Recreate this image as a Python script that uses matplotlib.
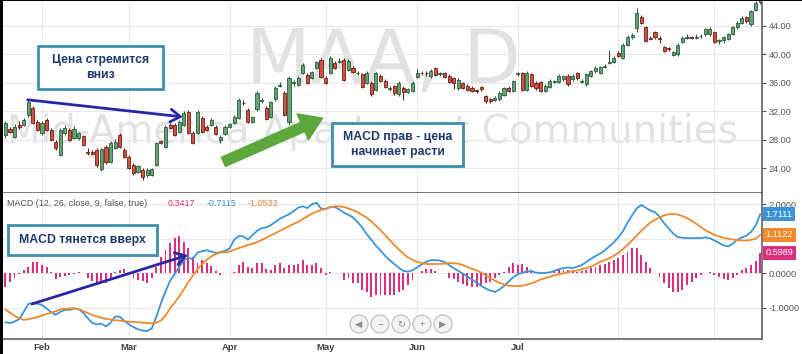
import numpy as np
import pandas as pd
import matplotlib
matplotlib.use("Agg")
import matplotlib.pyplot as plt
from matplotlib.patches import Rectangle, Circle, FancyArrowPatch
from matplotlib.ticker import FormatStrFormatter, FuncFormatter

plt.rcParams['font.family'] = ['Liberation Sans', 'DejaVu Sans']

# ---- data: MAA daily, Jan 21 .. Sep 2009 ----
holidays = ['2009-02-16', '2009-04-10', '2009-05-25', '2009-07-03', '2009-09-07']
month_labels = ['Feb', 'Mar', 'Apr', 'May', 'Jun', 'Jul', '', '']

opens = [
    28.6, 29.5, 28.4, 30.1, 30.1, 31.5, 32.5, 30.5, 28.9, 30.8,
    29.4, 27.7, 25.9, 28.9, 29.4, 28.3, 28.3, 28.5, 26.3, 26.3,
    26.6, 23.9, 27.0, 24.9, 26.9, 28.7, 26.6, 25.6, 24.5, 23.5,
    23.8, 23.1, 23.1, 24.5, 27.8, 27.0, 30.1, 30.1, 29.1, 30.1,
    31.9, 29.0, 29.0, 31.0, 29.8, 30.1, 29.8, 27.9, 28.8, 29.8,
    30.4, 31.1, 33.2, 32.2, 30.5, 32.3, 33.4, 32.5, 31.2, 33.7,
    35.6, 34.6, 30.5, 35.9, 35.7, 37.4, 37.1, 36.7, 38.1, 39.2,
    36.7, 37.4, 38.8, 38.9, 39.2, 37.8, 38.1, 37.3, 37.2, 36.0,
    36.0, 35.0, 37.0, 36.3, 35.1, 35.5, 34.4, 35.3, 34.7, 34.9,
    36.8, 37.3, 37.4, 36.9, 38.0, 37.2, 37.3, 37.0, 36.6, 35.2,
    35.9, 35.6, 35.3, 34.9, 35.4, 34.1, 33.7, 33.6, 33.7, 34.3,
    35.3, 34.9, 37.2, 37.3, 35.0, 37.2, 36.0, 36.1, 34.9, 35.4,
    36.1, 36.1, 36.5, 37.0, 36.5, 37.3, 36.1, 35.8, 37.0, 37.6,
    37.4, 38.2, 38.8, 38.9, 40.2, 39.5, 41.3, 42.4, 43.7, 45.2,
    43.8, 42.3, 43.1, 42.3, 41.0, 40.8, 39.9, 40.0, 41.7, 42.3,
    42.4, 42.3, 42.5, 42.8, 42.8, 43.1, 41.9, 42.0, 42.2, 42.9,
    43.8, 44.4, 45.2, 44.2, 46.2, 47.3,
]
closes = [
    30.3, 29.1, 29.8, 29.8, 30.8, 33.3, 30.4, 29.4, 30.3, 29.4,
    28.0, 26.9, 29.4, 29.7, 28.0, 29.5, 28.9, 27.3, 26.1, 26.0,
    24.5, 26.7, 24.9, 27.5, 27.7, 27.0, 25.6, 24.1, 23.4, 24.3,
    22.8, 23.8, 23.9, 27.5, 27.6, 29.8, 29.7, 28.7, 30.5, 31.8,
    29.0, 27.6, 31.9, 29.1, 29.4, 30.8, 28.8, 28.4, 29.8, 30.2,
    31.2, 33.6, 33.1, 30.5, 31.2, 34.6, 33.5, 30.9, 33.3, 35.3,
    35.7, 31.5, 36.7, 36.1, 36.7, 38.5, 36.0, 37.5, 38.9, 36.8,
    36.0, 39.5, 38.1, 39.1, 36.4, 39.1, 37.5, 37.4, 35.4, 37.4,
    34.4, 37.3, 36.3, 35.4, 35.2, 34.5, 36.0, 34.7, 35.1, 36.0,
    37.4, 37.4, 37.3, 37.7, 37.1, 37.3, 36.8, 36.1, 35.9, 36.4,
    35.3, 35.0, 34.9, 34.8, 35.1, 33.4, 33.4, 33.9, 34.6, 35.2,
    34.9, 36.2, 37.3, 35.0, 37.4, 35.6, 35.2, 34.9, 35.6, 36.3,
    36.2, 37.0, 36.9, 35.8, 37.0, 36.6, 36.2, 37.2, 37.6, 38.1,
    38.2, 38.4, 38.9, 39.5, 39.8, 41.3, 42.4, 42.7, 45.8, 44.4,
    41.9, 42.2, 42.4, 42.2, 40.5, 40.7, 40.3, 41.3, 42.3, 42.4,
    42.3, 42.4, 42.6, 43.5, 43.5, 41.7, 42.0, 42.4, 42.8, 43.8,
    44.4, 45.1, 44.6, 46.0, 47.2, 48.0,
]
highs = [
    30.6, 29.8, 30.2, 30.6, 31.0, 33.7, 32.8, 30.8, 30.6, 31.0,
    29.6, 28.0, 29.7, 30.0, 29.6, 29.9, 29.1, 28.7, 26.8, 26.5,
    26.8, 26.9, 27.2, 27.8, 28.1, 29.0, 26.8, 25.8, 24.7, 24.5,
    24.0, 24.0, 24.1, 27.7, 28.0, 30.0, 30.3, 30.3, 30.7, 32.0,
    32.2, 29.2, 32.2, 31.3, 30.0, 31.0, 30.0, 28.6, 30.0, 30.4,
    31.5, 33.9, 33.6, 32.4, 31.4, 34.9, 33.9, 32.7, 33.5, 35.5,
    36.1, 34.8, 37.0, 36.4, 36.9, 38.8, 37.3, 37.7, 39.1, 39.4,
    36.9, 39.8, 39.0, 39.4, 39.4, 39.3, 38.3, 37.7, 37.4, 37.6,
    36.2, 37.5, 37.2, 36.5, 35.5, 35.7, 36.2, 35.5, 35.3, 36.2,
    37.9, 37.7, 37.6, 37.9, 38.2, 37.5, 37.5, 37.2, 36.8, 36.6,
    36.1, 35.8, 35.5, 35.1, 35.6, 34.3, 33.9, 34.1, 34.8, 35.4,
    35.5, 36.4, 37.5, 37.5, 37.6, 37.4, 36.2, 36.3, 35.8, 36.5,
    36.4, 37.2, 37.1, 37.2, 37.2, 37.5, 36.5, 37.4, 37.8, 38.3,
    38.4, 38.6, 40.6, 39.8, 40.4, 41.6, 42.7, 43.0, 46.5, 45.5,
    44.0, 42.5, 43.3, 42.5, 41.2, 41.0, 40.5, 41.5, 42.5, 42.8,
    42.6, 42.9, 42.8, 43.7, 43.8, 43.3, 42.2, 42.6, 43.0, 44.0,
    44.6, 45.4, 45.4, 46.2, 47.5, 48.3,
]
lows = [
    28.2, 28.9, 28.2, 29.5, 29.9, 31.2, 30.2, 29.2, 28.7, 29.2,
    27.8, 26.6, 25.7, 28.7, 27.8, 28.1, 28.0, 27.1, 25.9, 25.8,
    24.2, 23.6, 24.6, 24.7, 26.7, 26.8, 25.4, 23.9, 23.1, 23.3,
    22.4, 22.8, 22.9, 24.3, 27.4, 26.8, 29.5, 28.5, 28.9, 29.9,
    28.8, 27.4, 28.8, 28.9, 29.2, 29.9, 28.6, 27.6, 28.6, 29.6,
    30.2, 30.9, 32.9, 30.3, 30.3, 32.1, 33.2, 30.7, 31.0, 33.5,
    35.4, 31.3, 30.1, 35.6, 35.5, 37.2, 35.8, 36.5, 37.9, 36.6,
    35.8, 37.2, 37.9, 38.7, 36.2, 37.6, 37.3, 37.1, 35.2, 35.8,
    34.2, 34.8, 36.1, 35.2, 34.9, 34.3, 34.2, 33.6, 34.5, 34.7,
    36.6, 37.1, 37.0, 36.7, 36.9, 37.0, 36.6, 35.9, 35.1, 35.0,
    35.1, 34.8, 34.7, 34.6, 34.9, 33.2, 33.2, 33.4, 33.5, 34.1,
    34.7, 34.7, 37.0, 34.8, 34.8, 35.4, 35.0, 34.7, 34.7, 35.2,
    35.9, 35.9, 36.3, 35.6, 36.3, 36.4, 35.9, 35.6, 36.8, 37.4,
    37.2, 38.0, 38.6, 38.7, 39.6, 39.3, 41.1, 42.2, 43.1, 44.2,
    41.7, 42.0, 42.2, 41.6, 40.3, 40.5, 39.8, 39.8, 41.5, 42.2,
    42.1, 42.1, 42.3, 42.6, 42.6, 41.5, 41.4, 41.5, 42.0, 42.7,
    43.6, 44.2, 44.4, 44.0, 46.0, 47.1,
]

macd = [
    -1.42, -1.44, -1.40, -1.33, -1.12, -0.89, -0.86, -0.88, -0.92, -1.02,
    -1.13, -1.20, -1.12, -1.06, -1.06, -1.02, -1.04, -1.14, -1.30, -1.44,
    -1.48, -1.46, -1.54, -1.43, -1.25, -1.26, -1.38, -1.48, -1.56, -1.62,
    -1.66, -1.67, -1.60, -1.26, -0.87, -0.53, -0.22, -0.02, 0.18, 0.38,
    0.44, 0.42, 0.60, 0.64, 0.67, 0.63, 0.59, 0.61, 0.65, 0.72,
    0.97, 1.08, 1.07, 0.98, 1.10, 1.23, 1.31, 1.33, 1.39, 1.49,
    1.58, 1.65, 1.71, 1.80, 1.90, 1.94, 1.89, 2.00, 2.04, 1.88,
    1.86, 1.92, 1.92, 1.85, 1.76, 1.69, 1.62, 1.48, 1.33, 1.13,
    0.97, 0.80, 0.66, 0.51, 0.38, 0.27, 0.16, 0.07, 0.05, 0.09,
    0.17, 0.26, 0.33, 0.38, 0.38, 0.37, 0.33, 0.24, 0.15, 0.07,
    -0.01, -0.09, -0.18, -0.27, -0.36, -0.44, -0.50, -0.54, -0.47, -0.37,
    -0.24, -0.12, -0.03, 0.02, 0.05, 0.06, 0.02, 0.01, 0.01, 0.03,
    0.07, 0.12, 0.15, 0.17, 0.15, 0.19, 0.24, 0.33, 0.42, 0.50,
    0.57, 0.66, 0.78, 0.90, 1.04, 1.22, 1.47, 1.68, 1.88, 1.98,
    1.90, 1.82, 1.77, 1.64, 1.45, 1.30, 1.15, 1.05, 1.03, 1.02,
    1.02, 1.02, 1.02, 1.04, 1.02, 0.95, 0.88, 0.81, 0.78, 0.86,
    0.97, 1.04, 1.09, 1.20, 1.38, 1.7111,
]
signal = [
    -1.05, -1.14, -1.23, -1.30, -1.35, -1.33, -1.30, -1.27, -1.22, -1.18,
    -1.14, -1.10, -1.05, -1.03, -1.02, -1.01, -1.04, -1.09, -1.15, -1.21,
    -1.25, -1.29, -1.32, -1.34, -1.36, -1.37, -1.39, -1.40, -1.41, -1.42,
    -1.43, -1.44, -1.45, -1.43, -1.37, -1.22, -1.02, -0.85, -0.67, -0.47,
    -0.26, -0.06, 0.12, 0.26, 0.39, 0.49, 0.56, 0.60, 0.61, 0.63,
    0.68, 0.73, 0.77, 0.82, 0.86, 0.90, 0.96, 1.03, 1.10, 1.16,
    1.23, 1.30, 1.36, 1.43, 1.49, 1.57, 1.65, 1.73, 1.79, 1.83,
    1.87, 1.91, 1.94, 1.94, 1.92, 1.88, 1.83, 1.77, 1.69, 1.61,
    1.50, 1.38, 1.25, 1.11, 0.97, 0.82, 0.69, 0.57, 0.46, 0.39,
    0.33, 0.30, 0.27, 0.27, 0.27, 0.27, 0.28, 0.30, 0.29, 0.28,
    0.24, 0.18, 0.13, 0.08, 0.02, -0.06, -0.14, -0.21, -0.28, -0.32,
    -0.36, -0.37, -0.37, -0.36, -0.33, -0.29, -0.24, -0.18, -0.14, -0.10,
    -0.06, -0.03, 0.00, 0.03, 0.06, 0.08, 0.12, 0.15, 0.19, 0.26,
    0.33, 0.38, 0.43, 0.51, 0.59, 0.70, 0.82, 0.95, 1.09, 1.23,
    1.35, 1.47, 1.55, 1.62, 1.68, 1.71, 1.72, 1.70, 1.66, 1.60,
    1.52, 1.44, 1.34, 1.25, 1.18, 1.11, 1.07, 1.03, 1.00, 0.98,
    0.96, 0.95, 0.95, 0.97, 1.00, 1.1122,
]
hist = [
    -0.39, -0.24, -0.14, -0.02, 0.10, 0.19, 0.34, 0.34, 0.24, 0.17,
    0.05, -0.17, -0.12, -0.08, -0.05, -0.03, 0.05, 0.00, -0.14, -0.21,
    -0.29, -0.24, -0.29, -0.17, 0.05, 0.10, 0.12, 0.00, -0.14, -0.19,
    -0.21, -0.27, -0.14, 0.19, 0.48, 0.68, 0.87, 1.01, 1.08, 0.92,
    0.72, 0.48, 0.29, 0.39, 0.29, 0.21, 0.07, -0.05, 0.00, 0.00,
    0.05, 0.24, 0.34, 0.17, 0.14, 0.31, 0.31, 0.12, 0.10, 0.24,
    0.31, 0.14, 0.24, 0.24, 0.27, 0.39, 0.24, 0.24, 0.29, 0.14,
    -0.05, 0.05, 0.00, 0.00, -0.19, -0.14, -0.27, -0.29, -0.48, -0.53,
    -0.68, -0.63, -0.63, -0.63, -0.63, -0.63, -0.53, -0.48, -0.34, -0.19,
    0.00, 0.07, 0.13, 0.12, 0.07, 0.00, 0.00, -0.14, -0.17, -0.24,
    -0.32, -0.36, -0.39, -0.39, -0.34, -0.29, -0.24, -0.14, -0.05, 0.05,
    0.19, 0.29, 0.24, 0.26, 0.19, 0.10, 0.03, 0.03, 0.03, 0.03,
    0.10, 0.10, 0.10, 0.10, 0.10, 0.05, 0.07, 0.10, 0.14, 0.19,
    0.24, 0.26, 0.32, 0.39, 0.45, 0.53, 0.63, 0.72, 0.72, 0.53,
    0.34, 0.14, 0.00, -0.10, -0.29, -0.43, -0.55, -0.55, -0.48, -0.34,
    -0.24, -0.14, -0.05, 0.00, 0.03, -0.05, -0.10, -0.16, -0.19, -0.14,
    -0.05, 0.10, 0.14, 0.24, 0.36, 0.5989,
]
# values shown in the indicator header (cursor readout)
readout = [0.3417, -0.7115, -1.0533]

# ---- layout ----
W, H = 802, 354
fig = plt.figure(figsize=(W / 100, H / 100), dpi=100)
fig.patch.set_facecolor('white')


def fx(px):
    return px / W


def fy(py):
    return 1 - py / H


ax1 = fig.add_axes([fx(3), fy(193), 759 / W, 192 / H])
ax2 = fig.add_axes([fx(3), fy(339), 759 / W, 146 / H], sharex=ax1)

dates = pd.bdate_range('2009-01-21', periods=len(closes), freq='C', holidays=holidays)
x = np.arange(len(closes))
month_idx = [i for i in range(1, len(dates)) if dates[i].month != dates[i - 1].month]

HIST_C = '#d8307f'
MACD_C = '#3a95d8'
SIG_C = '#f08a2c'
GRID_C = '#e8e8e8'
AX_C = '#555555'

# candles
o = np.array(opens)
c = np.array(closes)
up = c >= o
fill = ['#62a374' if u else '#d2503f' for u in up]
edge = ['#2e5b3b' if u else '#6b2219' for u in up]
body = np.maximum(np.abs(c - o), 0.12)
ax1.vlines(x, lows, highs, colors=edge, lw=0.8, zorder=2)
ax1.bar(x, body, bottom=np.minimum(o, c), width=0.68, color=fill,
        edgecolor=edge, linewidth=0.6, zorder=3)

ax1.set_xlim(-0.52, 165.4)
ax1.set_ylim(20.53, 47.46)
ax1.yaxis.tick_right()
ax1.set_yticks([24, 28, 32, 36, 40, 44])
ax1.yaxis.set_major_formatter(FormatStrFormatter('%.2f'))

# MACD panel
ax2.bar(x, hist, width=0.42, color=HIST_C, zorder=2)
ax2.plot(x, macd, color=MACD_C, lw=1.3, zorder=3)
ax2.plot(x, signal, color=SIG_C, lw=1.3, zorder=3)
ax2.set_ylim(-1.904, 2.327)
ax2.yaxis.tick_right()
ax2.set_yticks([-1, 0, 1, 2])
ax2.yaxis.set_major_formatter(FuncFormatter(lambda v, p: '' if v == 1 else f'{v:.4f}'))
ax2.set_xticks(month_idx)
ax2.set_xticklabels(month_labels)

for ax in (ax1, ax2):
    ax.grid(True, color=GRID_C, lw=0.8)
    ax.set_axisbelow(True)
    for s in ('top', 'left'):
        ax.spines[s].set_visible(False)
    for s in ('right', 'bottom'):
        ax.spines[s].set_color(AX_C)
        ax.spines[s].set_linewidth(1.1)
    ax.tick_params(axis='y', direction='out', length=3, width=0.8, color=AX_C,
                   labelsize=6.6, labelcolor='#555555', pad=2)
ax1.tick_params(axis='x', length=0, labelbottom=False)
ax2.tick_params(axis='x', length=0, labelsize=6.8, labelcolor='#444444', pad=3)
for t in ax2.get_xticklabels():
    t.set_fontweight('bold')

# watermark
ax1.text(fx(383), fy(83), 'MAA, D', transform=fig.transFigure, ha='center',
         va='baseline', fontsize=54, color='#e2e2e2', family='DejaVu Sans', zorder=0.5)
ax1.text(fx(7), fy(143), 'Mid-America Apartment Communities', transform=fig.transFigure,
         ha='left', va='baseline', fontsize=28, color='#e2e2e2', family='DejaVu Sans',
         zorder=0.5)

# indicator header
fig.text(fx(7), fy(204), 'MACD (12, 26, close, 9, false, true)', fontsize=6.4,
         color='#555555', va='center')
for val, col, px in zip(readout, [HIST_C, MACD_C, SIG_C], [168, 207, 248]):
    fig.text(fx(px), fy(204), f'{val:.4f}', fontsize=6.4, color=col, va='center')

# last-value tags on the MACD scale
for val, col in zip([macd[-1], signal[-1], hist[-1]], [MACD_C, SIG_C, HIST_C]):
    ax2.annotate(f'{val:.4f}', xy=(1, val), xycoords=('axes fraction', 'data'),
                 xytext=(2.5, 0), textcoords='offset points', ha='left', va='center',
                 fontsize=6.6, color='white', annotation_clip=False,
                 bbox=dict(boxstyle='square,pad=0.28', fc=col, ec='none'))


# callout boxes
def note(x0, y0, x1, y1, text):
    fig.add_artist(Rectangle((fx(x0 + 2), fy(y1 + 2)), (x1 - x0) / W, (y1 - y0) / H,
                             transform=fig.transFigure, fc='#a0a0a0', ec='none',
                             alpha=0.35, zorder=5))
    fig.add_artist(Rectangle((fx(x0), fy(y1)), (x1 - x0) / W, (y1 - y0) / H,
                             transform=fig.transFigure, fc='white', ec='#3f90ae',
                             lw=2, zorder=6))
    fig.text(fx((x0 + x1) / 2), fy((y0 + y1) / 2), text, ha='center', va='center',
             fontsize=8.8, fontweight='bold', color='#1f3b6f', linespacing=1.35, zorder=7)


note(38, 46, 163, 89, 'Цена стремится\nвниз')
note(332, 123, 463, 166, 'MACD прав - цена\nначинает расти')
note(8, 225, 157, 255, 'MACD тянется вверх')

# arrows
ARROW_C = '#2a26a8'
ax1.annotate('', xy=(38.8, 31.2), xytext=(4.9, 33.6),
             arrowprops=dict(arrowstyle='->,head_length=0.7,head_width=0.45',
                             lw=2.0, color=ARROW_C, shrinkA=0, shrinkB=0), zorder=8)
ax2.annotate('', xy=(39.9, 0.53), xytext=(5.8, -0.89),
             arrowprops=dict(arrowstyle='->,head_length=0.7,head_width=0.45',
                             lw=2.0, color=ARROW_C, shrinkA=0, shrinkB=0), zorder=8)
ax1.add_patch(FancyArrowPatch((47.1, 24.74), (69.9, 31.19),
                              arrowstyle='simple,head_length=1.3,head_width=1.7,tail_width=0.6',
                              mutation_scale=12, color='#5ea73c', clip_on=False, zorder=8))

# chart navigation buttons
for px, sym in zip([359, 380, 401, 422, 443], ['◀', '−', '↻', '+', '▶']):
    fig.add_artist(Circle((px / 100, (H - 324) / 100), 0.09, transform=fig.dpi_scale_trans,
                          fc='#f3f3f3', ec='#c6c6c6', lw=1, zorder=5))
    fig.text(fx(px), fy(324), sym, ha='center', va='center', fontsize=6.8,
             color='#8c8c8c', zorder=6)

# screenshot frame
fig.add_artist(Rectangle((0, 0), fx(2.5), 1, transform=fig.transFigure,
                         fc='black', ec='none', zorder=10))
fig.add_artist(Rectangle((0, fy(1.3)), 1, 1.3 / H, transform=fig.transFigure,
                         fc='black', ec='none', zorder=10))

fig.savefig('out.png', dpi=100)
